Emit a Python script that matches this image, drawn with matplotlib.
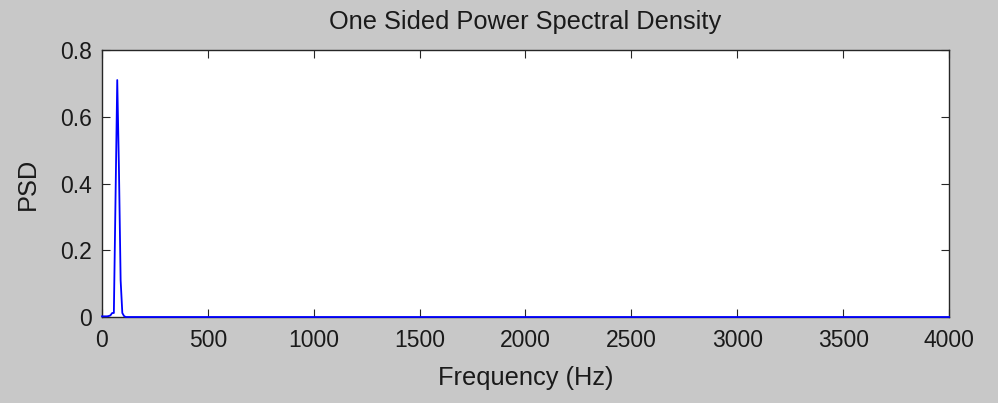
import matplotlib
matplotlib.use('Agg')
import matplotlib.pyplot as plt

# --- Spectrum values ---
freq_hz = [0, 8, 16, 24, 32, 40, 48, 56, 64, 72, 80, 88, 96, 104, 112, 4000]
psd = [0.002, 0.002, 0.002, 0.002, 0.003, 0.005, 0.012, 0.012, 0.36, 0.71,
       0.445, 0.11, 0.012, 0.003, 0.0, 0.0]
x_ticks = [0, 500, 1000, 1500, 2000, 2500, 3000, 3500, 4000]
y_ticks = [0, 0.2, 0.4, 0.6, 0.8]

plt.rcParams['font.family'] = ['Liberation Sans', 'DejaVu Sans']

fig = plt.figure(figsize=(9.98, 4.03), dpi=100, facecolor='#c8c8c8')
ax = fig.add_axes([0.1022, 0.2134, 0.8487, 0.6625])
ax.plot(freq_hz, psd, color='#0000ff', linewidth=1.3, clip_on=False, zorder=3)

ax.set_xlim(0, 4000)
ax.set_ylim(0, 0.8)
ax.set_xticks(x_ticks)
ax.set_yticks(y_ticks)
ax.set_xticklabels([str(t) for t in x_ticks])
ax.set_yticklabels(['0', '0.2', '0.4', '0.6', '0.8'])
ax.tick_params(direction='in', length=6, width=0.8, top=True, right=True,
               labelsize=16.5, colors='#262626', labelcolor='#1a1a1a')
ax.tick_params(axis='x', pad=9)
ax.tick_params(axis='y', pad=7)
for s in ax.spines.values():
    s.set_linewidth(1.0)
    s.set_color('#262626')

ax.set_title('One Sided Power Spectral Density', fontsize=18.3, pad=15, color='#1a1a1a')
ax.set_xlabel('Frequency (Hz)', fontsize=18.3, labelpad=10, color='#1a1a1a')
ax.set_ylabel('PSD', fontsize=18.3, labelpad=15, color='#1a1a1a')

fig.savefig('out.png', dpi=100, facecolor=fig.get_facecolor())
